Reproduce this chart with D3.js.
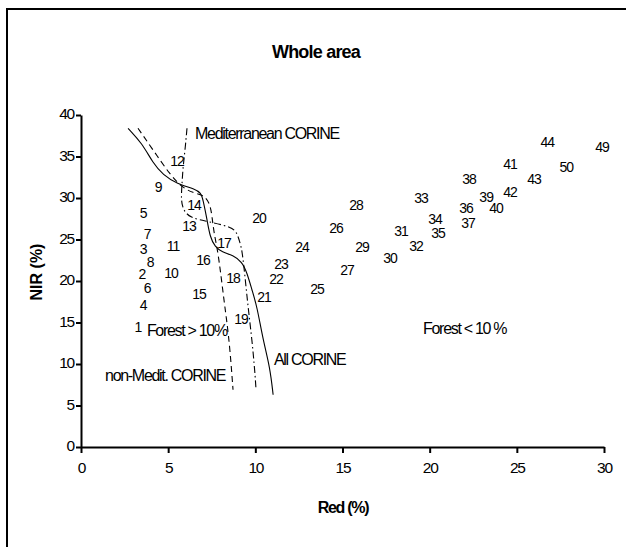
<!DOCTYPE html>
<html>
<head>
<meta charset="utf-8">
<script src="https://cdn.jsdelivr.net/npm/d3@7"></script>
<style>
  body { margin: 0; background: #fff; }
  text { font-family: "Liberation Sans", Arial, sans-serif; fill: #000; }
  .tick text { font-size: 15.5px; letter-spacing: -1.2px; }
  .lbl { font-size: 14px; letter-spacing: -1px; }
  .note { font-size: 16px; letter-spacing: -1.3px; }
</style>
</head>
<body>
<svg width="626" height="547"></svg>
<script>
// points: label, red (%), NIR (%)
var ids  = [1,2,3,4,5,6,7,8,9,10,11,12,13,14,15,16,17,18,19,20,21,22,23,24,25,26,27,28,29,30,31,32,33,34,35,36,37,38,39,40,41,42,43,44,49,50];
var reds = [3.27,3.50,3.56,3.56,3.56,3.79,3.79,3.96,4.42,5.16,5.28,5.51,6.20,6.48,6.77,7.00,8.20,8.72,9.18,10.21,10.50,11.19,11.47,12.68,13.54,14.63,15.26,15.78,16.12,17.73,18.36,19.22,19.51,20.31,20.48,22.09,22.20,22.26,23.24,23.81,24.61,24.61,25.99,26.74,29.89,27.83];
var nirs = [14.5,20.8,23.9,17.1,28.2,19.2,25.7,22.3,31.3,21.0,24.2,34.5,26.6,29.2,18.4,22.5,24.6,20.4,15.4,27.6,18.1,20.2,22.1,24.1,19.0,26.4,21.3,29.2,24.1,22.8,26.0,24.2,30.0,27.5,25.8,28.8,27.0,32.3,30.1,28.8,34.1,30.7,32.3,36.8,36.1,33.7];

// boundary curves
var allRed  = [2.70,3.50,4.13,4.70,5.51,6.54,6.88,7.00,7.23,7.40,7.69,8.09,8.72,9.24,9.52,9.81,10.10,10.44,10.84,11.02];
var allNir  = [38.4,36.6,34.2,32.8,31.7,31.1,30.6,29.8,27.4,25.3,24.1,23.5,23.1,22.3,21.0,18.9,16.9,12.9,9.6,6.3];
var nonRed  = [3.27,4.13,5.11,5.79,6.43,7.00,7.40,7.52,7.63,7.80,7.97,8.20,8.38,8.55,8.72];
var nonNir  = [38.4,35.8,32.8,31.3,30.6,30.4,29.4,27.7,25.8,24.1,21.7,17.7,14.9,11.7,6.9];
var medRed  = [6.08,5.97,5.85,5.79,5.74,5.85,6.25,7.23,8.66,8.95,9.12,9.24,9.41,9.58,9.81,9.98,10.04];
var medNir  = [38.4,35.8,33.7,31.6,29.8,28.6,27.6,27.2,26.5,25.8,24.6,23.7,20.5,16.9,12.9,8.9,6.9];

var xTicks = [0,5,10,15,20,25,30];
var yTicks = [0,5,10,15,20,25,30,35,40];

var svg = d3.select("svg"),
    margin = {top: 115, left: 81},
    width = 604 - 81,
    height = 447 - 115;

// outer frame (only top and left edge inside the picture)
svg.append("rect")
    .attr("x", 7).attr("y", 9)
    .attr("width", 700).attr("height", 700)
    .attr("fill", "none").attr("stroke", "#000").attr("stroke-width", 2);

var x = d3.scaleLinear().domain([0, 30]).range([0, width]);
var y = d3.scaleLinear().domain([0, 40]).range([height, 0]);

var g = svg.append("g")
    .attr("transform", "translate(" + margin.left + "," + margin.top + ")");

var ax = g.append("g")
    .attr("transform", "translate(0," + height + ")")
    .call(d3.axisBottom(x).tickValues(xTicks).tickSize(6).tickSizeOuter(0).tickPadding(9));
var ay = g.append("g")
    .call(d3.axisLeft(y).tickValues(yTicks).tickSize(5).tickSizeOuter(0).tickPadding(2));

[ax, ay].forEach(function(a) {
  a.select(".domain").attr("stroke-width", 2);
  a.selectAll(".tick line").attr("stroke-width", 2);
  a.selectAll(".tick text").attr("font-size", null).attr("font-family", null);
});
ay.selectAll(".tick text").attr("dy", "0.25em");

// curves
var line = d3.line().curve(d3.curveBasis);
function drawCurve(rx, ny, dash) {
  g.append("path")
      .datum(rx.map(function(d, i) { return [x(d), y(ny[i])]; }))
      .attr("d", line)
      .attr("fill", "none")
      .attr("stroke", "#000")
      .attr("stroke-width", 1.1)
      .attr("stroke-dasharray", dash);
}
drawCurve(allRed, allNir, null);
drawCurve(nonRed, nonNir, "6,4");
drawCurve(medRed, medNir, "7,3,1.5,3");

// point numbers
g.selectAll(".lbl")
  .data(ids)
  .enter().append("text")
    .attr("class", "lbl")
    .attr("x", function(d, i) { return x(reds[i]); })
    .attr("y", function(d, i) { return y(nirs[i]); })
    .attr("dy", "0.36em")
    .attr("text-anchor", "middle")
    .text(function(d) { return d; });

// annotations
var notes = [
  {t: "Mediterranean CORINE", r: 6.54, n: 37.8},
  {t: "Forest > 10%", r: 3.78, n: 14.1},
  {t: "non-Medit. CORINE", r: 1.38, n: 8.7},
  {t: "All CORINE", r: 11.07, n: 10.6},
  {t: "Forest < 10 %", r: 19.62, n: 14.3}
];
g.selectAll(".note")
  .data(notes)
  .enter().append("text")
    .attr("class", "note")
    .attr("x", function(d) { return x(d.r); })
    .attr("y", function(d) { return y(d.n); })
    .attr("dy", "0.36em")
    .text(function(d) { return d.t; });

svg.append("text")
    .attr("x", 316).attr("y", 58)
    .attr("text-anchor", "middle")
    .attr("font-size", 18).attr("font-weight", "bold")
    .attr("letter-spacing", "-0.8px")
    .text("Whole area");

svg.append("text")
    .attr("x", 343).attr("y", 513)
    .attr("text-anchor", "middle")
    .attr("font-size", 16).attr("font-weight", "bold")
    .attr("letter-spacing", "-1.3px")
    .text("Red (%)");

svg.append("text")
    .attr("transform", "translate(42,272) rotate(-90)")
    .attr("text-anchor", "middle")
    .attr("font-size", 16).attr("font-weight", "bold")
    .text("NIR (%)");
</script>
</body>
</html>
